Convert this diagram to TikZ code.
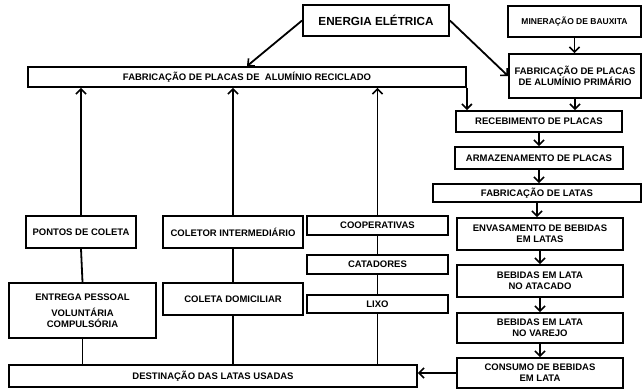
\documentclass[tikz,border=0pt]{standalone}
\usepackage{fontspec}
\setmainfont{Liberation Sans}
\usetikzlibrary{arrows.meta}
\begin{document}
\begin{tikzpicture}[x=1pt,y=-1pt,
  box/.style={draw,line width=1.8pt,inner sep=0pt,align=center,font=\fontsize{9.5}{11}\selectfont\bfseries},
  arr/.style={line width=1.8pt,-{Straight Barb[length=5pt,width=10pt,line width=1.6pt]}},
  ln/.style={line width=1.8pt}]
\useasboundingbox (0,0) rectangle (643,390);
\node[box,minimum width=146pt,minimum height=31pt,font=\fontsize{11.7}{13}\selectfont\bfseries] (energia) at (376,20.5) {ENERGIA ELÉTRICA};
\node[box,minimum width=133pt,minimum height=31pt,font=\fontsize{8.5}{10}\selectfont\bfseries] (mineracao) at (574.5,21.5) {MINERAÇÃO DE BAUXITA};
\node[box,minimum width=132pt,minimum height=44pt] (primario) at (575,76) {FABRICAÇÃO DE PLACAS\\DE ALUMÍNIO PRIMÁRIO};
\node[box,minimum width=438pt,minimum height=20pt] (reciclado) at (247,77) {FABRICAÇÃO DE PLACAS DE \ ALUMÍNIO RECICLADO};
\node[box,minimum width=166pt,minimum height=21pt] (recebimento) at (539,121.5) {RECEBIMENTO DE PLACAS};
\node[box,minimum width=168pt,minimum height=22pt] (armazenamento) at (539,158) {ARMAZENAMENTO DE PLACAS};
\node[box,minimum width=208pt,minimum height=18pt] (latas) at (537,193) {FABRICAÇÃO DE LATAS};
\node[box,minimum width=166pt,minimum height=32pt] (envasamento) at (540,234) {ENVASAMENTO DE BEBIDAS\\EM LATAS};
\node[box,minimum width=166pt,minimum height=32pt] (atacado) at (540,281) {BEBIDAS EM LATA\\NO ATACADO};
\node[box,minimum width=166pt,minimum height=30pt] (varejo) at (540,328) {BEBIDAS EM LATA\\NO VAREJO};
\node[box,minimum width=166pt,minimum height=30pt] (consumo) at (540,373) {CONSUMO DE BEBIDAS\\EM LATA};
\node[box,minimum width=408pt,minimum height=22pt] (destinacao) at (213,376) {DESTINAÇÃO DAS LATAS USADAS};
\node[box,minimum width=110pt,minimum height=32pt] (pontos) at (81,232) {PONTOS DE COLETA};
\node[box,minimum width=140pt,minimum height=32pt] (coletor) at (233,232) {COLETOR INTERMEDIÁRIO};
\node[box,minimum width=141pt,minimum height=19pt] (cooperativas) at (377.5,225.5) {COOPERATIVAS};
\node[box,minimum width=141pt,minimum height=19pt] (catadores) at (377.5,264.5) {CATADORES};
\node[box,minimum width=141pt,minimum height=18pt] (lixo) at (377.5,304) {LIXO};
\node[box,minimum width=147pt,minimum height=55pt] (entrega) at (82.5,310.5) {ENTREGA PESSOAL\\[5pt]VOLUNTÁRIA\\COMPULSÓRIA};
\node[box,minimum width=140pt,minimum height=32pt] (domiciliar) at (233,299) {COLETA DOMICILIAR};
\draw[arr] (energia.west) -- (reciclado.north);
\draw[arr] (energia.east) -- (primario.west);
\draw[arr] (mineracao.south) -- (mineracao.south |- primario.north);
\draw[arr] (reciclado.south east) -- (reciclado.south east |- recebimento.north);
\draw[arr] (primario.south) -- (primario.south |- recebimento.north);
\draw[arr] (recebimento.south) -- (recebimento.south |- armazenamento.north);
\draw[arr] (armazenamento.south) -- (armazenamento.south |- latas.north);
\draw[arr] (latas.south) -- (latas.south |- envasamento.north);
\draw[arr] (envasamento.south) -- (envasamento.south |- atacado.north);
\draw[arr] (atacado.south) -- (atacado.south |- varejo.north);
\draw[arr] (varejo.south) -- (varejo.south |- consumo.north);
\draw[arr] (consumo.west) -- (consumo.west -| destinacao.east);
\draw[ln] (entrega.south |- destinacao.north) -- (entrega.south);
\draw[ln] (entrega.north) -- (pontos.south);
\draw[arr] (pontos.north) -- (pontos.north |- reciclado.south);
\draw[ln] (domiciliar.south |- destinacao.north) -- (domiciliar.south);
\draw[ln] (domiciliar.north) -- (coletor.south);
\draw[arr] (coletor.north) -- (coletor.north |- reciclado.south);
\draw[ln] (lixo.south |- destinacao.north) -- (lixo.south);
\draw[ln] (lixo.north) -- (catadores.south);
\draw[ln] (catadores.north) -- (cooperativas.south);
\draw[arr] (cooperativas.north) -- (cooperativas.north |- reciclado.south);
\end{tikzpicture}
\end{document}
